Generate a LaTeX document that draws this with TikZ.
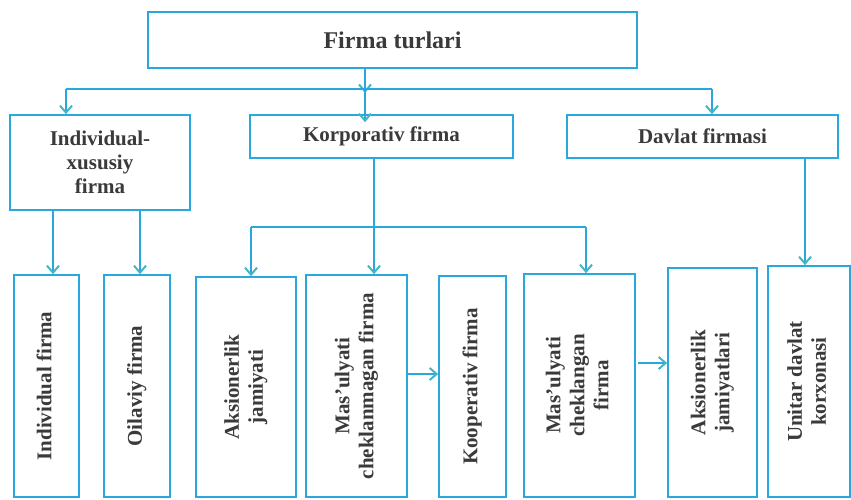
\documentclass[tikz,border=0pt]{standalone}
\usepackage{fontspec}
\setmainfont{Liberation Serif}
\usetikzlibrary{arrows.meta}
\definecolor{lnc}{HTML}{29A8E0}
\definecolor{tipc}{HTML}{45B5C6}
\definecolor{txtc}{HTML}{3A3A3A}
\tikzset{
 box/.style={draw=lnc, line width=1.6pt, inner sep=0pt, text=txtc, font=\fontsize{21}{24}\selectfont\bfseries, align=center},
 conn/.style={draw=lnc, line width=2pt},
 arr/.style={conn, -{Straight Barb[length=7pt,width=12pt,color=tipc,line width=2pt]}},
}
\newcommand{\vtext}[1]{\rotatebox{90}{\begin{tabular}{@{}c@{}}#1\end{tabular}}}
\begin{document}
\begin{tikzpicture}[x=1pt,y=-1pt]
\useasboundingbox[fill=white] (0,0) rectangle (851,499);
\clip (0,0) rectangle (851,499);
% top level
\node[box, minimum width=489pt, minimum height=56pt, font=\fontsize{24}{28}\selectfont\bfseries] (top) at (392.5,40) {Firma turlari};
% second level
\node[box, minimum width=180pt, minimum height=95pt] (ind) at (100,162.5) {Individual-\\xususiy\\firma};
\node[box, minimum width=263pt, minimum height=43pt] (kor) at (381.5,136.5) {Korporativ firma};
\node[box, minimum width=271pt, minimum height=43pt] (dav) at (702.5,136.5) {Davlat firmasi};
% third level
\node[box, minimum width=65pt, minimum height=222pt] (b1) at (46.5,386) {\vtext{Individual firma}};
\node[box, minimum width=66pt, minimum height=222pt] (b2) at (137,386) {\vtext{Oilaviy firma}};
\node[box, minimum width=100pt, minimum height=220pt] (b3) at (246,387) {\vtext{Aksionerlik\\jamiyati}};
\node[box, minimum width=101pt, minimum height=222pt] (b4) at (356.5,386) {\vtext{Mas’ulyati\\cheklanmagan firma}};
\node[box, minimum width=67pt, minimum height=221pt] (b5) at (472.5,386.5) {\vtext{Kooperativ firma}};
\node[box, minimum width=111pt, minimum height=223pt] (b6) at (579.5,385.5) {\vtext{Mas’ulyati\\cheklangan\\firma}};
\node[box, minimum width=89pt, minimum height=229pt] (b7) at (712.5,382.5) {\vtext{Aksionerlik\\jamiyatlari}};
\node[box, minimum width=82pt, minimum height=231pt] (b8) at (809,381.5) {\vtext{Unitar davlat\\korxonasi}};
% connector junction points
\coordinate (j0) at (365,89);
\coordinate (hl) at (66,89);
\coordinate (hr) at (712,89);
\coordinate (ia) at (53,0);
\coordinate (ib) at (140,0);
\coordinate (kx) at (374,227);
\coordinate (kl) at (251,227);
\coordinate (kr) at (586,227);
\coordinate (dx) at (805,0);
\coordinate (r1) at (0,374);
\coordinate (r2) at (0,363);
% top connectors
\draw[arr] (top.south -| j0) -- ([yshift=-4pt]j0);
\draw[conn] (hl) -- (hr);
\draw[conn] (j0) -- (j0 |- kor.north);
\draw[arr] (j0) -- ([yshift=-8pt]j0 |- kor.north);
\draw[arr] (hl) -- (hl |- ind.north);
\draw[arr] (hr) -- (hr |- dav.north);
% individual-xususiy
\draw[arr] (ia |- ind.south) -- (ia |- b1.north);
\draw[arr] (ib |- ind.south) -- (ib |- b2.north);
% korporativ
\draw[conn] (kx |- kor.south) -- (kx);
\draw[arr] (kx) -- (kx |- b4.north);
\draw[conn] (kl) -- (kr);
\draw[arr] (kl) -- (kl |- b3.north);
\draw[arr] (kr) -- (kr |- b6.north);
% davlat
\draw[arr] (dx |- dav.south) -- (dx |- b8.north);
% side arrows
\draw[arr] (b4.east |- r1) -- (b5.west |- r1);
\draw[arr] ([xshift=2pt]b6.east |- r2) -- (b7.west |- r2);
\end{tikzpicture}
\end{document}
